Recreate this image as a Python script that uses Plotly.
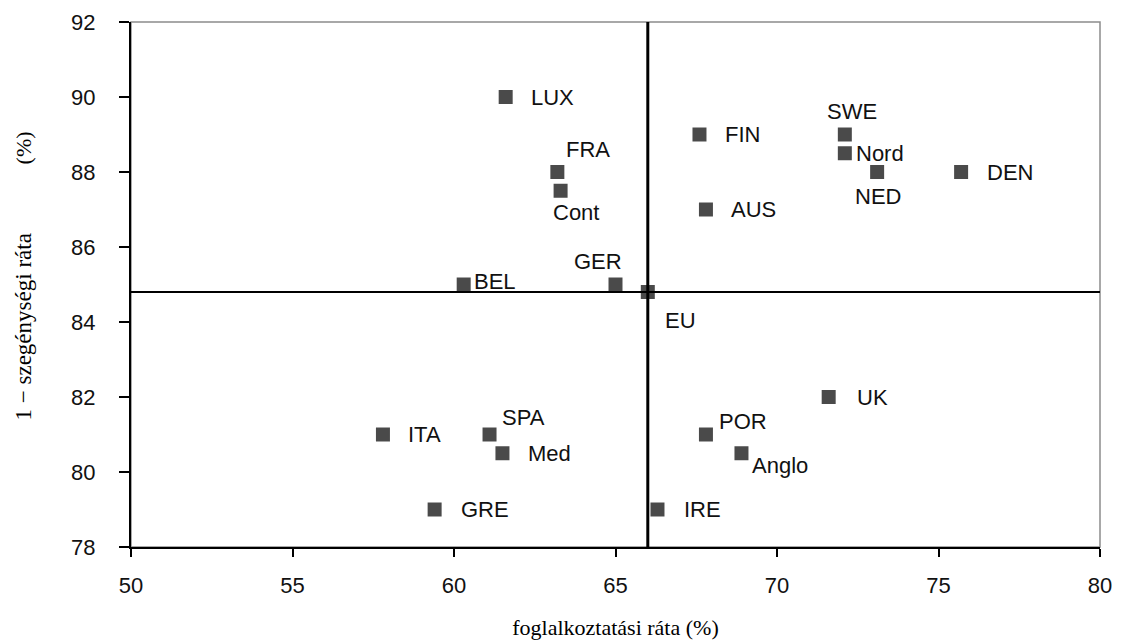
import plotly.graph_objects as go

# data
countries = ["LUX", "FRA", "Cont", "FIN", "AUS", "SWE", "Nord", "NED", "DEN", "BEL",
             "GER", "EU", "UK", "POR", "Anglo", "IRE", "ITA", "SPA", "Med", "GRE"]
employment = [61.6, 63.2, 63.3, 67.6, 67.8, 72.1, 72.1, 73.1, 75.7, 60.3,
              65.0, 66.0, 71.6, 67.8, 68.9, 66.3, 57.8, 61.1, 61.5, 59.4]
non_poverty = [90.0, 88.0, 87.5, 89.0, 87.0, 89.0, 88.5, 88.0, 88.0, 85.0,
               85.0, 84.8, 82.0, 81.0, 80.5, 79.0, 81.0, 81.0, 80.5, 79.0]
eu_employment = 66.0
eu_non_poverty = 84.8

# where each label sits relative to its marker: (xanchor, xshift, yshift)
label_pos = {
    "LUX": ("left", 23, 0), "FRA": ("left", 7, 23), "Cont": ("center", 15, -22),
    "FIN": ("left", 24, 0), "AUS": ("left", 23, 0), "SWE": ("center", 7, 23),
    "Nord": ("left", 9, 0), "NED": ("center", 1, -24), "DEN": ("left", 24, 0),
    "BEL": ("left", 8, 3), "GER": ("center", -18, 23), "EU": ("left", 15, -28),
    "UK": ("left", 26, 0), "POR": ("left", 11, 13), "Anglo": ("left", 9, -12),
    "IRE": ("left", 25, 0), "ITA": ("left", 23, 0), "SPA": ("left", 10, 17),
    "Med": ("left", 24, 0), "GRE": ("left", 24, 0),
}

sans = "Liberation Sans, Arial, sans-serif"
serif = "Liberation Serif, Times New Roman, serif"

fig = go.Figure()
fig.add_trace(go.Scatter(
    x=employment, y=non_poverty, mode="markers",
    marker=dict(symbol="square", size=14, color="#4a4a4a"),
    hovertext=countries, showlegend=False,
))

for name, xv, yv in zip(countries, employment, non_poverty):
    anchor, dx, dy = label_pos[name]
    fig.add_annotation(x=xv, y=yv, text=name, showarrow=False,
                       xanchor=anchor, yanchor="middle", xshift=dx, yshift=dy,
                       font=dict(family=sans, size=22, color="#111"))

# frame (gray top/right), quadrant lines
fig.add_shape(type="rect", xref="paper", yref="paper", x0=0, y0=0, x1=1, y1=1,
              line=dict(color="#8c8c8c", width=1.5), layer="below")
fig.add_shape(type="line", xref="x", yref="paper", x0=eu_employment, x1=eu_employment,
              y0=0, y1=1, line=dict(color="black", width=3))
fig.add_shape(type="line", xref="paper", yref="y", x0=0, x1=1,
              y0=eu_non_poverty, y1=eu_non_poverty, line=dict(color="black", width=2))

# y axis title in two pieces
fig.add_annotation(xref="paper", yref="paper", x=-0.111, y=0.419, text="1 − szegénységi ráta",
                   xanchor="center", yanchor="middle",
                   textangle=-90, showarrow=False, font=dict(family=serif, size=23, color="black"))
fig.add_annotation(xref="paper", yref="paper", x=-0.111, y=0.76, text="(%)",
                   xanchor="center", yanchor="middle",
                   textangle=-90, showarrow=False, font=dict(family=serif, size=22, color="black"))

fig.update_xaxes(range=[50, 80], tickvals=[50, 55, 60, 65, 70, 75, 80], showgrid=False,
                 zeroline=False, showline=True, linecolor="black", linewidth=2,
                 ticks="outside", ticklen=8, tickcolor="black", tickwidth=1.5,
                 ticklabelstandoff=10, automargin=False,
                 tickfont=dict(family=sans, size=22, color="#111"),
                 title=dict(text="foglalkoztatási ráta (%)", standoff=22,
                            font=dict(family=serif, size=22, color="black")))
fig.update_yaxes(range=[78, 92], tickvals=[78, 80, 82, 84, 86, 88, 90, 92], showgrid=False,
                 zeroline=False, showline=True, linecolor="black", linewidth=2,
                 ticks="outside", ticklen=10, tickcolor="black", tickwidth=1.5,
                 ticklabelstandoff=19, automargin=False,
                 tickfont=dict(family=sans, size=22, color="#111"))

# the page has an 8px body margin, so the margins absorb it
fig.update_layout(
    width=1127, height=644,
    margin=dict(l=123, r=35, t=14, b=105),
    plot_bgcolor="white", paper_bgcolor="white",
)

fig.write_html("out.html")
